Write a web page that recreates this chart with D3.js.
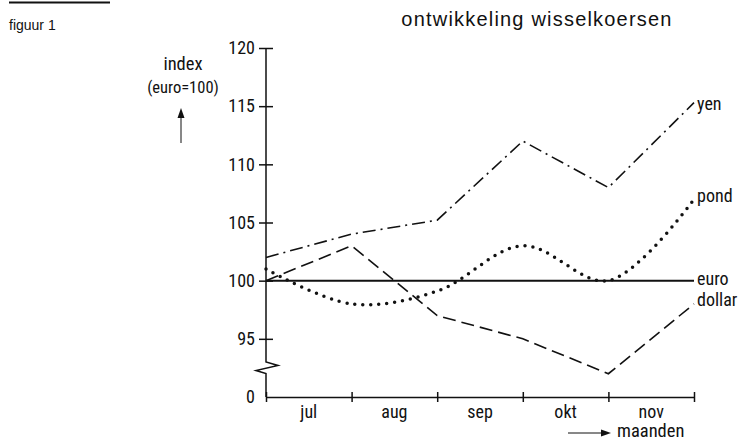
<!DOCTYPE html>
<html><head><meta charset="utf-8">
<script src="https://cdn.jsdelivr.net/npm/d3@7/dist/d3.min.js"></script>
<style>
body{margin:0;background:#fff;}
text{fill:#111;}
.cond{font-family:"Liberation Sans Narrow","Roboto Condensed","DejaVu Sans Condensed",Roboto,sans-serif;}
</style></head>
<body>
<svg id="c" width="746" height="441"></svg>
<script>
const months = ["jul","aug","sep","okt","nov"];
const points = [0,1,2,3,4,5];
const yen    = [102,104,105.2,112,108,115.3];
const pond   = [101,98,99.1,103,100,107];
const euro   = [100,100,100,100,100,100];
const dollar = [100,103,97,95,92,98];
const yTicks = [95,100,105,110,115,120];
const yTickLabels = ["95","100","105","110","115","120"];

const svg = d3.select("#c");
const x = d3.scaleLinear().domain([0,5]).range([266,694]);
const y = d3.scaleLinear().domain([90,120]).range([397,48]);

// header
svg.append("line").attr("x1",9).attr("x2",110).attr("y1",2.5).attr("y2",2.5).attr("stroke","#111").attr("stroke-width",2);
svg.append("text").attr("x",9).attr("y",30).attr("font-family","Liberation Sans, Arial, sans-serif").attr("font-size",14).text("figuur 1");
svg.append("text").attr("x",537).attr("y",26).attr("text-anchor","middle").attr("font-family","Liberation Sans, Arial, sans-serif").attr("font-size",20).attr("letter-spacing",1.2).text("ontwikkeling wisselkoersen");

// y axis with break
const ax = x(0);
const yBreak = 362;
svg.append("path").attr("fill","none").attr("stroke","#111").attr("stroke-width",1.5)
  .attr("d",`M${ax},${y(120)}V${yBreak}L${ax+12},${yBreak+3.5}L${ax-10},${yBreak+8.5}L${ax},${yBreak+11.5}V${y(90)}`);
const yAxis = d3.axisLeft(y).tickValues(yTicks).tickFormat((d,i)=>yTickLabels[i]).tickSize(0).tickPadding(11);
const gy = svg.append("g").attr("transform",`translate(${ax},0)`).call(yAxis);
gy.select(".domain").remove();
gy.selectAll("text").attr("class","cond").attr("font-size",18).attr("fill","#111");
gy.selectAll(".tick").append("line").attr("x1",-7).attr("x2",7).attr("stroke","#111").attr("stroke-width",1.5);
// zero label at the bottom
svg.append("text").attr("class","cond").attr("x",ax-11).attr("y",y(90)).attr("dy","0.35em").attr("text-anchor","end").attr("font-size",18).text("0");

// x axis
const gx = svg.append("g").attr("transform",`translate(0,${y(90)})`)
  .call(d3.axisBottom(x).tickValues(points).tickFormat("").tickSize(0));
gx.select(".domain").attr("stroke","#111").attr("stroke-width",1.5);
gx.selectAll(".tick").append("line").attr("y1",-5).attr("y2",5).attr("stroke","#111").attr("stroke-width",1.5);
svg.append("g").selectAll("text").data(months).join("text")
  .attr("class","cond").attr("x",(d,i)=>x(i+0.5)).attr("y",y(90)+21).attr("text-anchor","middle").attr("font-size",18).text(d=>d);

// axis titles
svg.append("text").attr("class","cond").attr("x",183).attr("y",70).attr("text-anchor","middle").attr("font-size",18.5).text("index");
svg.append("text").attr("class","cond").attr("x",183).attr("y",93).attr("text-anchor","middle").attr("font-size",16.5).text("(euro=100)");
svg.append("line").attr("x1",181).attr("x2",181).attr("y1",143).attr("y2",116).attr("stroke","#111").attr("stroke-width",1);
svg.append("path").attr("d","M181,108L177.5,118L184.5,118Z").attr("fill","#111");
svg.append("line").attr("x1",568).attr("x2",602).attr("y1",433).attr("y2",433).attr("stroke","#111").attr("stroke-width",1);
svg.append("path").attr("d","M611,433L601,429.5L601,436.5Z").attr("fill","#111");
svg.append("text").attr("class","cond").attr("x",617).attr("y",437).attr("font-size",18.5).text("maanden");

// series
const line = d3.line().x((d,i)=>x(i)).y(d=>y(d));
const smooth = d3.line().x((d,i)=>x(i)).y(d=>y(d)).curve(d3.curveCatmullRom.alpha(0.5));
svg.append("path").datum(euro).attr("d",line).attr("fill","none").attr("stroke","#111").attr("stroke-width",2);
svg.append("path").datum(dollar).attr("d",line).attr("fill","none").attr("stroke","#111").attr("stroke-width",1.6).attr("stroke-dasharray","13,6");
svg.append("path").datum(yen).attr("d",line).attr("fill","none").attr("stroke","#111").attr("stroke-width",1.6).attr("stroke-dasharray","13,5,2,5");
svg.append("path").datum(pond).attr("d",smooth).attr("fill","none").attr("stroke","#111").attr("stroke-width",3.5).attr("stroke-linecap","round").attr("stroke-dasharray","0,8");

// series labels
const labels = ["yen","pond","euro","dollar"];
const labelY = [104,196,279,300];
svg.append("g").selectAll("text").data(labels).join("text")
  .attr("class","cond").attr("x",697).attr("y",(d,i)=>labelY[i]).attr("dy","0.35em").attr("font-size",18).text(d=>d);
</script>
</body></html>
